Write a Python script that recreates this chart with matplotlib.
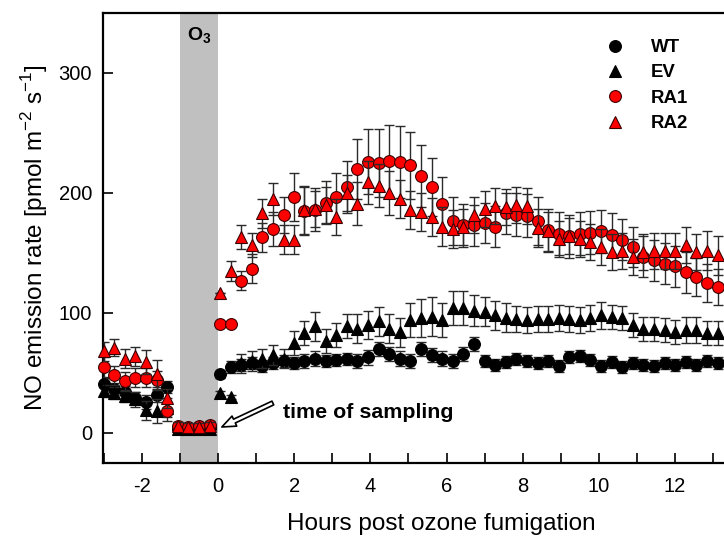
import numpy as np
import matplotlib.pyplot as plt
from matplotlib.ticker import MultipleLocator

plt.rcParams['font.family'] = ['Liberation Sans', 'DejaVu Sans']
plt.rcParams['mathtext.fontset'] = 'custom'
plt.rcParams['mathtext.rm'] = 'Liberation Sans'
plt.rcParams['mathtext.bf'] = 'Liberation Sans:bold'
plt.rcParams['axes.unicode_minus'] = False

# sampling times (h) before and after ozone fumigation
time_pre = [-3.0, -2.72, -2.44, -2.17, -1.89, -1.61, -1.33, -1.06, -0.78, -0.5, -0.22]
time_post = [0.05, 0.33, 0.61, 0.88, 1.16, 1.44, 1.72, 2.0, 2.27, 2.55, 2.83, 3.11,
             3.39, 3.66, 3.94, 4.22, 4.5, 4.78, 5.05, 5.33, 5.61, 5.89, 6.17, 6.44,
             6.72, 7.0, 7.28, 7.56, 7.83, 8.11, 8.39, 8.67, 8.95, 9.22, 9.5, 9.78,
             10.06, 10.34, 10.61, 10.89, 11.17, 11.45, 11.73, 12.0, 12.28, 12.56, 12.84, 13.12]

# NO emission rates [pmol m-2 s-1]
wt_pre = [41, 37, 34, 29, 26, 32, 38, 3, 3, 3, 4]
wt_post = [49, 55, 57, 58, 56, 58, 60, 58, 60, 62, 60, 61, 62, 60, 63, 70, 66, 62, 60, 70,
           65, 62, 60, 66, 74, 60, 57, 59, 62, 60, 58, 60, 56, 63, 64, 61, 56, 59, 55, 58,
           57, 56, 58, 57, 59, 57, 60, 58]
wt_err_pre = [5, 5, 5, 5, 6, 6, 5, 2, 2, 2, 2]
wt_err_post = [3, 5, 5, 5, 5, 5, 5, 5, 6, 6, 5, 5, 5, 6, 6, 6, 6, 6, 6, 6,
               6, 6, 6, 6, 6, 5, 5, 5, 5, 5, 5, 5, 5, 5, 5, 5, 5, 5, 5, 5,
               5, 5, 5, 5, 5, 5, 5, 5]

ev_pre = [35, 33, 31, 28, 19, 18, 21, 3, 3, 3, 3]
ev_post = [33, 30, 58, 60, 62, 65, 62, 75, 83, 89, 77, 82, 89, 87, 90, 93, 87, 84, 94, 96,
           97, 94, 104, 104, 102, 101, 98, 96, 95, 94, 95, 95, 96, 95, 94, 96, 98, 97, 96, 90,
           87, 87, 86, 84, 86, 86, 83, 83]
ev_err_pre = [5, 5, 5, 6, 8, 10, 8, 2, 2, 2, 2]
ev_err_post = [2, 2, 8, 8, 8, 8, 8, 10, 10, 12, 10, 10, 10, 12, 12, 12, 12, 12, 14, 16,
               16, 14, 14, 14, 13, 12, 12, 12, 11, 11, 11, 11, 11, 11, 11, 11, 11, 10, 10, 10,
               10, 10, 10, 10, 11, 11, 10, 10]

ra1_pre = [55, 48, 43, 46, 46, 44, 18, 6, 5, 6, 7]
ra1_post = [91, 91, 127, 137, 163, 170, 182, 197, 185, 186, 192, 197, 205, 220, 226, 225,
            227, 226, 223, 214, 205, 191, 177, 173, 173, 175, 172, 183, 182, 181, 177, 169,
            166, 164, 166, 167, 168, 165, 161, 155, 147, 144, 141, 139, 134, 130, 125, 122]
ra1_err_pre = [8, 8, 8, 8, 8, 8, 8, 3, 3, 3, 3]
ra1_err_post = [0, 0, 8, 12, 12, 14, 15, 20, 20, 18, 18, 20, 22, 25, 27, 28,
                30, 30, 28, 26, 24, 22, 20, 18, 17, 17, 17, 17, 18, 18, 20, 18,
                18, 18, 18, 18, 18, 18, 17, 17, 17, 17, 17, 17, 17, 16, 16, 15]

ra2_pre = [68, 71, 62, 64, 59, 49, 29, 6, 5, 5, 6]
ra2_post = [117, 135, 163, 157, 183, 195, 161, 161, 186, 187, 190, 180, 200, 191, 209, 206,
            200, 195, 186, 184, 180, 172, 170, 172, 182, 187, 189, 188, 190, 189, 171, 168,
            162, 164, 162, 159, 155, 151, 152, 147, 151, 152, 152, 152, 157, 151, 152, 148]
ra2_err_pre = [8, 7, 8, 8, 10, 12, 8, 3, 3, 3, 3]
ra2_err_post = [0, 8, 10, 10, 12, 13, 12, 12, 20, 15, 15, 15, 15, 18, 18, 18,
                18, 16, 16, 16, 16, 16, 16, 15, 15, 15, 15, 15, 15, 15, 16, 16,
                15, 15, 15, 15, 15, 15, 15, 15, 15, 15, 15, 15, 15, 15, 16, 16]

labels = ['WT', 'EV', 'RA1', 'RA2']

fig = plt.figure(figsize=(7.24, 5.37), dpi=100)
# the original panel runs past the right edge of the crop
ax = fig.add_axes([103 / 724, 1 - 463 / 537, 676 / 724, 450 / 537])

t = time_pre + time_post
series = [
    (wt_pre + wt_post, wt_err_pre + wt_err_post, 'o', 'black', 'black'),
    (ev_pre + ev_post, ev_err_pre + ev_err_post, '^', 'black', 'black'),
    (ra1_pre + ra1_post, ra1_err_pre + ra1_err_post, 'o', '#ff0000', '#3a0000'),
    (ra2_pre + ra2_post, ra2_err_pre + ra2_err_post, '^', '#ff0000', '#3a0000'),
]

ax.axvspan(-1, 0, color='#c0c0c0', lw=0, zorder=0)

handles = []
for i, (y, err, m, fc, ec) in enumerate(series):
    ax.errorbar(t, y, yerr=err, fmt='none', ecolor='#2a2a2a', elinewidth=1.0,
                capsize=3.5, capthick=1.0, zorder=2 + 2 * i)
    h, = ax.plot(t, y, ls='none', marker=m, ms=8.5, mfc=fc, mec=ec, mew=0.8,
                 zorder=3 + 2 * i, clip_on=False, label=labels[i])
    handles.append(h)

ax.set_xlim(-3.02, 14.73)
ax.set_ylim(-25, 350)
ax.set_xticks(range(-2, 13, 2))
ax.xaxis.set_minor_locator(MultipleLocator(1))
ax.set_yticks([0, 100, 200, 300])
ax.tick_params(which='both', direction='in', length=7, width=1.2, labelsize=14.5)
ax.tick_params(axis='x', pad=10)
ax.tick_params(axis='y', pad=8)
for s in ax.spines.values():
    s.set_linewidth(1.6)

ax.set_xlabel('Hours post ozone fumigation', fontsize=17.5, labelpad=12)
ax.set_ylabel(r'NO emission rate [pmol m$^{-2}$ s$^{-1}$]', fontsize=17.5, labelpad=6)

ax.text(-0.5, 332, r'$\mathbf{O_3}$', ha='center', va='center', fontsize=14)

ax.annotate('', xy=(0.1, 5), xytext=(1.44, 25),
            arrowprops=dict(arrowstyle='simple,head_length=1.0,head_width=0.8,tail_width=0.3',
                            fc='white', ec='black', lw=1.2, shrinkA=0, shrinkB=0))
ax.text(1.7, 17, 'time of sampling', fontsize=15.4, fontweight='bold', va='center', ha='left')

leg = ax.legend(handles=handles, loc='upper left', bbox_to_anchor=(606 / 724, 1 - 39 / 537),
                bbox_transform=fig.transFigure, frameon=False,
                handlelength=1.0, handletextpad=1.4, labelspacing=0.45,
                borderpad=0, borderaxespad=0, prop={'weight': 'bold', 'size': 13.4})

fig.savefig('out.png', dpi=100)
